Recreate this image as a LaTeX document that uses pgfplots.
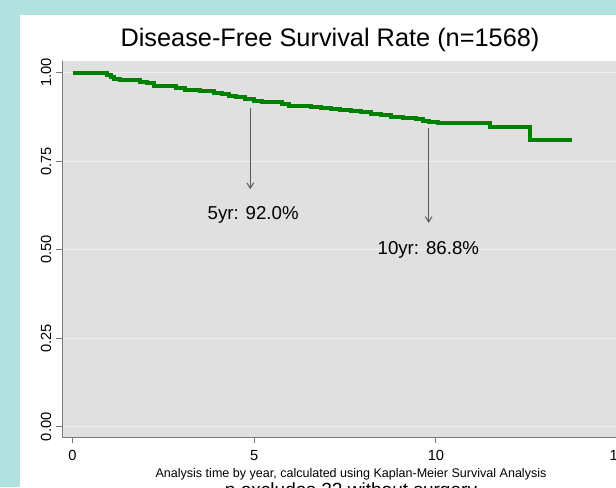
\documentclass[border=0pt]{standalone}
\usepackage{fontspec}
\setmainfont{Liberation Sans}
\usepackage{pgfplots}
\usepackage{pgfplotstable}
\pgfplotsset{compat=1.18}
\usetikzlibrary{arrows.meta}

\definecolor{bgteal}{RGB}{178,226,224}
\definecolor{plotgrey}{RGB}{224,224,224}
\definecolor{gridc}{RGB}{236,242,244}
\definecolor{kmgreen}{RGB}{0,128,0}
\definecolor{axisgrey}{RGB}{120,120,120}
\definecolor{arrowgrey}{RGB}{90,90,90}

% Kaplan-Meier disease-free survival (years, proportion)
\pgfplotstableread{
t     s
0     1.000
0.70  0.998
0.95  0.994
1.05  0.988
1.15  0.982
1.30  0.980
1.85  0.975
2.05  0.970
2.25  0.963
2.60  0.961
2.85  0.956
3.10  0.951
3.50  0.948
3.90  0.944
4.10  0.940
4.30  0.934
4.50  0.930
4.75  0.925
5.00  0.920
5.20  0.916
5.75  0.912
5.95  0.906
6.55  0.903
6.85  0.900
7.10  0.898
7.35  0.895
7.65  0.892
7.95  0.888
8.20  0.884
8.50  0.880
8.75  0.876
9.10  0.873
9.45  0.870
9.65  0.864
9.80  0.860
10.05 0.857
11.50 0.848
12.60 0.811
13.75 0.811
}\dfs

\begin{document}
\begin{tikzpicture}
\useasboundingbox (0,0) rectangle (462pt,365.25pt);
\clip (0,0) rectangle (462pt,365.25pt);
\fill[bgteal] (0,0) rectangle (462pt,365.25pt);
\fill[white] (15pt,-5pt) rectangle (470pt,354pt);

\begin{axis}[
  at={(46.5pt,37.5pt)}, anchor=south west, scale only axis,
  width=444pt, height=282pt,
  xmin=-0.29, xmax=16, ymin=-0.029, ymax=1.033,
  axis lines*=left,
  axis line style={draw=axisgrey, line width=0.75pt},
  axis background/.style={fill=plotgrey},
  xtick={0,5,10,15}, ytick={0,0.25,0.5,0.75,1},
  tick align=outside, major tick length=4.5pt,
  tick style={draw=axisgrey, line width=0.75pt},
  ymajorgrids, grid style={draw=gridc, line width=0.9pt},
  ticklabel style={font=\fontsize{11}{13}\selectfont},
  y tick label style={rotate=90, anchor=south, /pgf/number format/fixed,
    /pgf/number format/fixed zerofill, /pgf/number format/precision=2},
  x tick label style={yshift=-2pt},
  /pgf/number format/assume math mode=true,
]
\addplot[kmgreen, line width=3pt, const plot] table[x=t, y=s]{\dfs};

\draw[arrowgrey, line width=0.75pt, -{Straight Barb[length=4pt,width=5pt]}]
  (axis cs:4.89,0.900) -- (axis cs:4.89,0.671);
\node[anchor=base, font=\fontsize{14}{16}\selectfont] at (axis cs:4.97,0.584) {5yr: 92.0\%};
\draw[arrowgrey, line width=0.75pt, -{Straight Barb[length=4pt,width=5pt]}]
  (axis cs:9.80,0.843) -- (axis cs:9.80,0.576);
\node[anchor=base, font=\fontsize{14}{16}\selectfont] at (axis cs:9.79,0.487) {10yr: 86.8\%};
\end{axis}

\node[anchor=base, font=\fontsize{19}{22}\selectfont] at (247.5pt,330.2pt) {Disease-Free Survival Rate (n=1568)};
\node[anchor=base, font=\fontsize{9.4}{11}\selectfont] at (263.25pt,7.5pt) {Analysis time by year, calculated using Kaplan-Meier Survival Analysis};
\node[anchor=base, font=\fontsize{14.3}{16}\selectfont] at (263.25pt,-6.8pt) {n excludes 22 without surgery};
\end{tikzpicture}
\end{document}
